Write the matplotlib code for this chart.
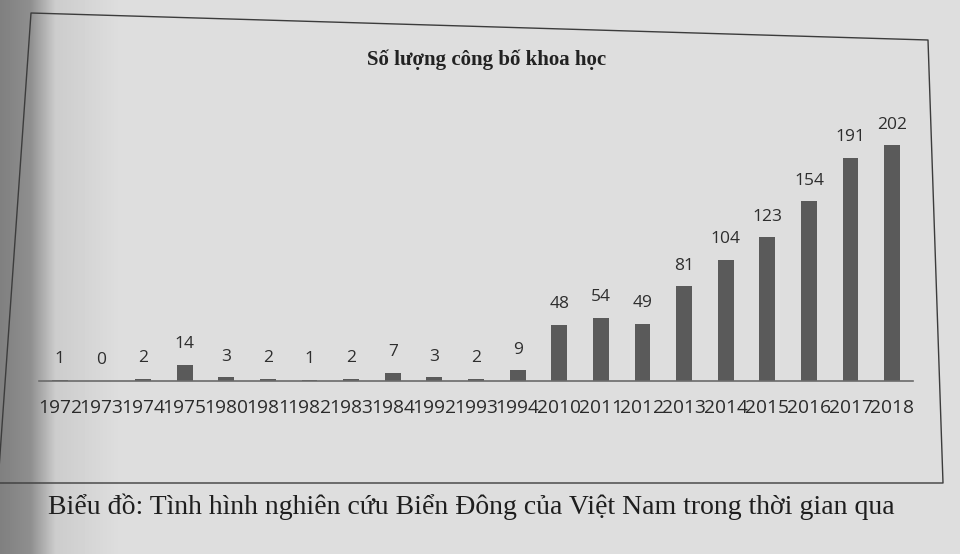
import matplotlib.pyplot as plt
import numpy as np

years = ["1972", "1973", "1974", "1975", "1980", "1981", "1982", "1983", "1984",
         "1992", "1993", "1994", "2010", "2011", "2012", "2013", "2014", "2015",
         "2016", "2017", "2018"]
counts = [1, 0, 2, 14, 3, 2, 1, 2, 7, 3, 2, 9, 48, 54, 49, 81, 104, 123, 154, 191, 202]

title = "Số lượng công bố khoa học"
caption = "Biểu đồ: Tình hình nghiên cứu Biển Đông của Việt Nam trong thời gian qua"

W, H = 960, 554
fig = plt.figure(figsize=(W / 100, H / 100), dpi=100)

# paper background with the darker shadow on the left edge
bg = fig.add_axes([0, 0, 1, 1])
bg.set_xlim(0, W)
bg.set_ylim(H, 0)
bg.axis("off")
xs = np.arange(W)
shade = np.interp(xs, [0, 30, 55, 120, 960], [0.50, 0.56, 0.80, 0.87, 0.87])
bg.imshow(np.tile(shade, (8, 1)), cmap="gray", vmin=0, vmax=1, aspect="auto",
          extent=[0, W, H, 0], zorder=0)
# frame around the chart (slightly skewed like the photo)
bg.plot([-2, 31, 928, 943, -2], [483, 13, 40, 483, 483], color="#3c3c3c", lw=1.0, zorder=1)

# chart axes: baseline at y=381 px, first category at x=60, last at x=892
left, right = 39, 913
base, top = 381, 100
ax = fig.add_axes([left / W, (H - base) / H, (right - left) / W, (base - top) / H])
ax.patch.set_alpha(0)
x = np.arange(len(years))
ax.bar(x, counts, width=0.38, color="#5a5a5a", zorder=2)
for xi, c in zip(x, counts):
    ax.annotate(str(c), (xi, c), xytext=(0, 9), textcoords="offset points",
                ha="center", va="bottom", fontsize=12.5, family="Open Sans", color="#2e2e2e")
ax.set_xlim(-0.5, len(years) - 0.5)
ax.set_ylim(0, (base - top) / 1.168)
ax.set_xticks(x)
ax.set_xticklabels(years, fontsize=13.8, family="Open Sans", color="#2a2a2a")
ax.tick_params(axis="x", length=0, pad=13)
ax.set_yticks([])
for s in ["left", "right", "top"]:
    ax.spines[s].set_visible(False)
ax.spines["bottom"].set_color("#6a6a6a")
ax.spines["bottom"].set_linewidth(1.2)

fig.text(487 / W, 1 - 60 / H, title, ha="center", va="center", fontsize=15,
         family="Liberation Serif", fontweight="bold", color="#222222")
fig.text(48 / W, 1 - 507 / H, caption, ha="left", va="center", fontsize=20,
         family="Liberation Serif", color="#1e1e1e")

fig.savefig("out.png", dpi=100)
